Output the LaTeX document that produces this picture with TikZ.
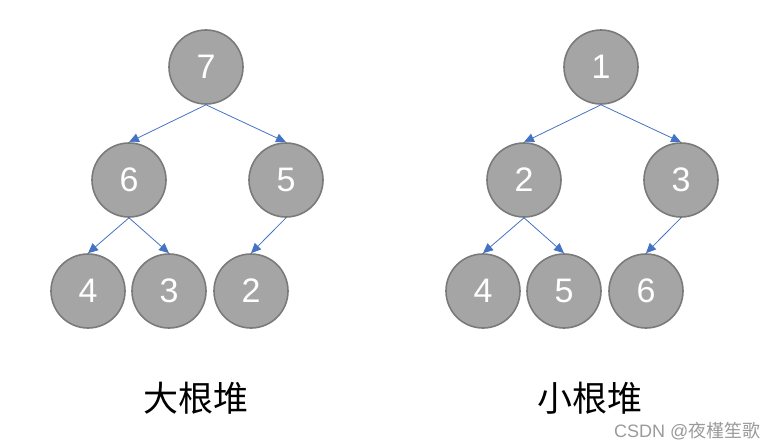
\documentclass[tikz,border=0pt]{standalone}
\usepackage{fontspec}
\setmainfont{Liberation Sans}
\newfontfamily\cjk{Noto Sans CJK SC}
\usetikzlibrary{arrows.meta}
\definecolor{nodefill}{HTML}{A5A5A5}
\definecolor{nodeline}{HTML}{7A7A7A}
\definecolor{edgeblue}{HTML}{4472C4}
\definecolor{wm}{HTML}{9A9A9A}
\tikzset{
  heapnode/.style={circle, fill=nodefill, draw=nodeline, line width=1.6pt,
    minimum size=74pt, inner sep=0pt, text=white, font=\fontsize{34}{34}\selectfont},
  edge/.style={draw=edgeblue, line width=0.8pt, -{Triangle[length=10pt,width=9pt]}},
  caption/.style={font=\cjk\fontsize{35}{35}\selectfont, text=black},
}
\begin{document}
\begin{tikzpicture}[x=1pt,y=-1pt]
\useasboundingbox (0,0) rectangle (777,447);
% left tree
\node[heapnode] (a7) at (206,67) {7};
\node[heapnode] (a6) at (129,180) {6};
\node[heapnode] (a5) at (286,180) {5};
\node[heapnode] (a4) at (88,291) {4};
\node[heapnode] (a3) at (169,291) {3};
\node[heapnode] (a2) at (251,291) {2};
\draw[edge] (a7.south) -- (a6.north);
\draw[edge] (a7.south) -- (a5.north);
\draw[edge] (a6.south) -- (a4.north);
\draw[edge] (a6.south) -- (a3.north);
\draw[edge] (a5.south) -- (a2.north);
% right tree
\node[heapnode] (b1) at (601,67) {1};
\node[heapnode] (b2) at (524,180) {2};
\node[heapnode] (b3) at (681,180) {3};
\node[heapnode] (b4) at (483,291) {4};
\node[heapnode] (b5) at (564,291) {5};
\node[heapnode] (b6) at (646,291) {6};
\draw[edge] (b1.south) -- (b2.north);
\draw[edge] (b1.south) -- (b3.north);
\draw[edge] (b2.south) -- (b4.north);
\draw[edge] (b2.south) -- (b5.north);
\draw[edge] (b3.south) -- (b6.north);
% captions
\node[caption] (c1) at (196,398) {大根堆};
\node[caption] (c2) at (590,398) {小根堆};
\node[font=\fontsize{18}{18}\selectfont, text=wm, anchor=east] (w) at (764,431) {CSDN @\cjk 夜槿笙歌};
\end{tikzpicture}
\end{document}
